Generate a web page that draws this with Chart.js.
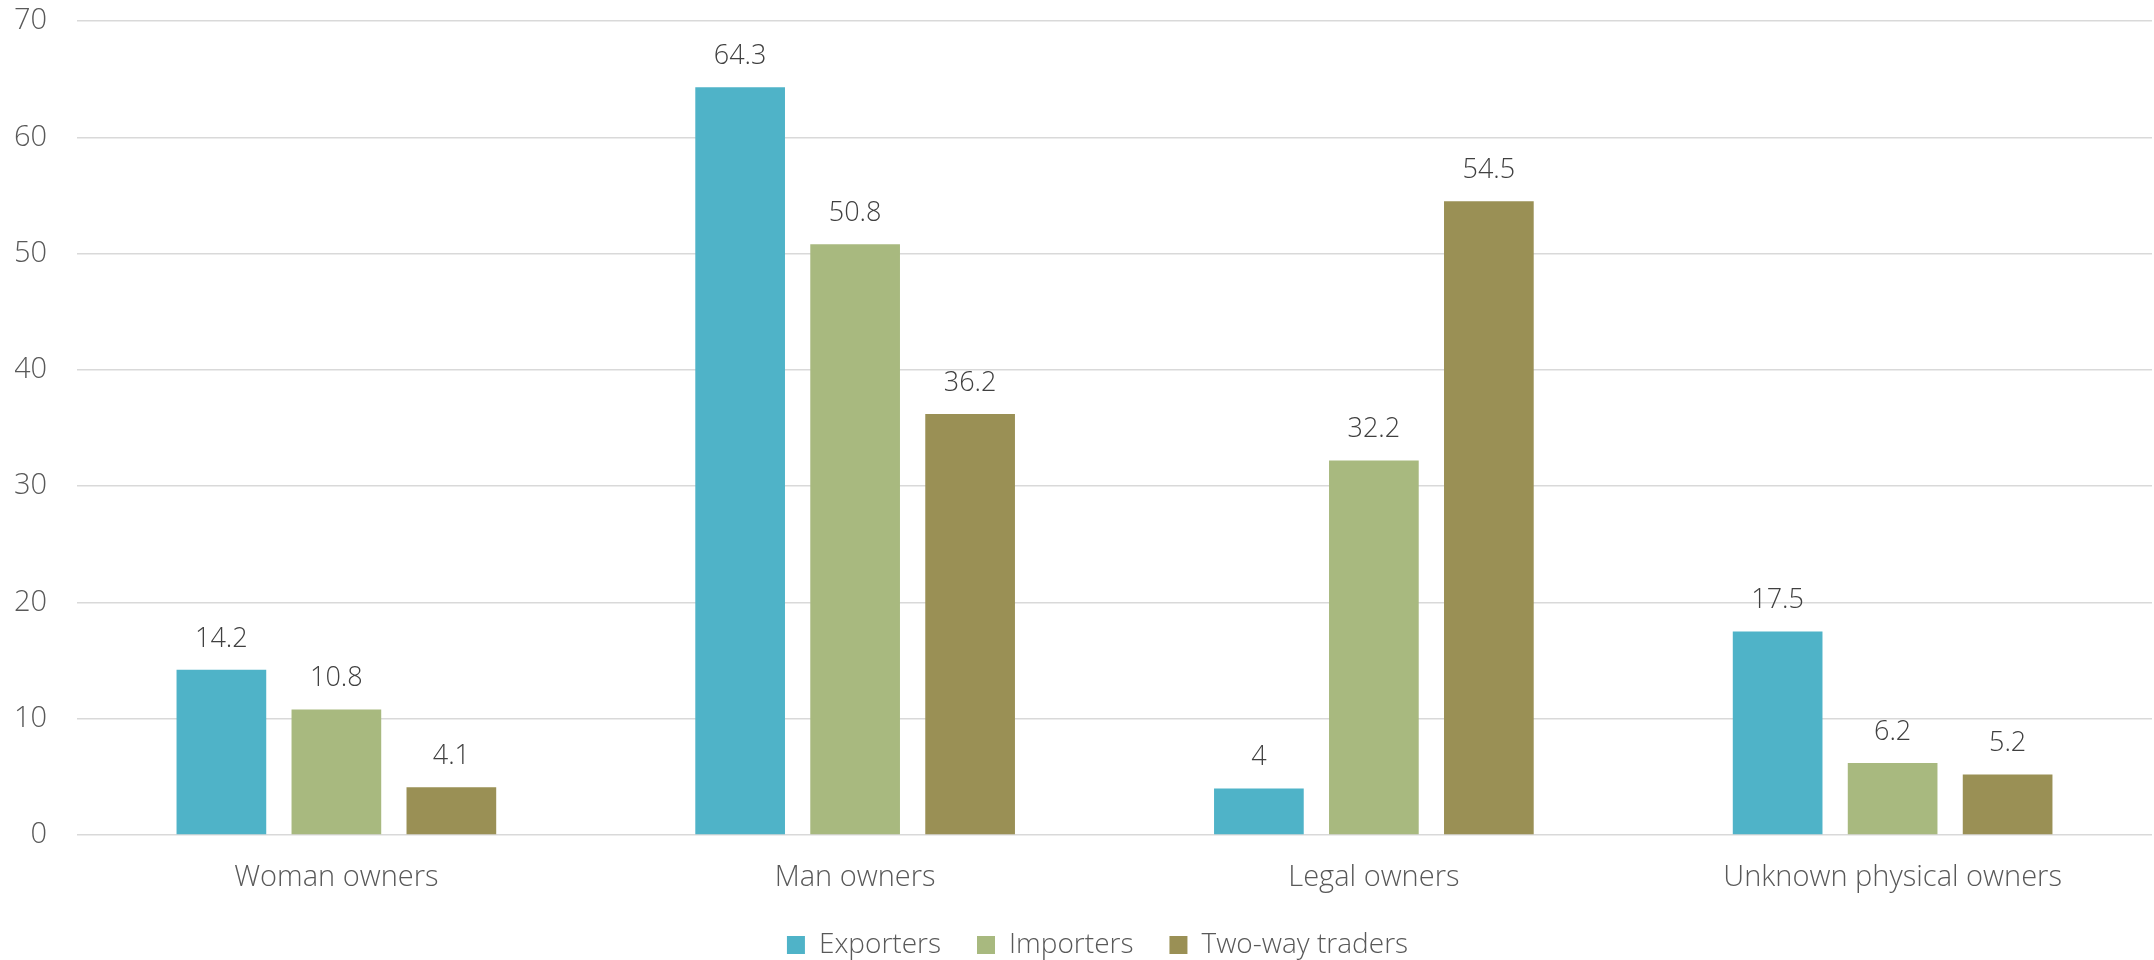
<!DOCTYPE html>
<html>
<head>
<meta charset="utf-8">
<script src="https://cdn.jsdelivr.net/npm/chart.js@4"></script>
<style>
    html, body { margin: 0; padding: 0; background: #fff; }
    #wrap { width: 2154px; height: 960px; }
    canvas { display: block; }
</style>
</head>
<body>
<div id="wrap"><canvas id="myChart"></canvas></div>
<script>
const categories = ['Woman owners', 'Man owners', 'Legal owners', 'Unknown physical owners'];
const exporters = [14.2, 64.3, 4, 17.5];
const importers = [10.8, 50.8, 32.2, 6.2];
const twoWay = [4.1, 36.2, 54.5, 5.2];
const yTicks = [0, 10, 20, 30, 40, 50, 60, 70];

const fontFamily = '"Open Sans", "Segoe UI", sans-serif';

// value labels above each bar
const barLabels = {
    id: 'barLabels',
    afterDatasetsDraw(chart) {
        const ctx = chart.ctx;
        ctx.save();
        ctx.font = `300 27px ${fontFamily}`;
        ctx.fillStyle = '#404040';
        ctx.textAlign = 'center';
        ctx.textBaseline = 'middle';
        chart.data.datasets.forEach((ds, i) => {
            chart.getDatasetMeta(i).data.forEach((bar, j) => {
                ctx.fillText(ds.data[j], bar.x, bar.y - 31);
            });
        });
        ctx.restore();
    }
};

// legend sits slightly right of the canvas centre in the original
const legendShift = {
    id: 'legendShift',
    afterLayout(chart) {
        chart.legend.left += 28;
    }
};

const ctx = document.getElementById('myChart');
new Chart(ctx, {
    type: 'bar',
    data: {
        labels: categories,
        datasets: [{
            label: 'Exporters',
            data: exporters,
            backgroundColor: '#4fb3c8'
        }, {
            label: 'Importers',
            data: importers,
            backgroundColor: '#a8b97f'
        }, {
            label: 'Two-way traders',
            data: twoWay,
            backgroundColor: '#9a9055'
        }]
    },
    options: {
        responsive: true,
        maintainAspectRatio: false,
        animation: false,
        datasets: {
            bar: {
                categoryPercentage: 0.665,
                barPercentage: 0.78
            }
        },
        layout: {
            padding: { top: 21, left: 15, right: 2, bottom: -9 }
        },
        scales: {
            x: {
                afterFit: (axis) => {
                    axis.paddingLeft = 0;
                    axis.paddingRight = 0;
                    axis.height = 60;
                },
                grid: { display: false },
                border: { display: false },
                ticks: {
                    color: '#595959',
                    padding: 26,
                    font: { family: fontFamily, size: 29, weight: 300, lineHeight: 0.6 }
                }
            },
            y: {
                min: 0,
                max: 70,
                afterBuildTicks: (axis) => {
                    axis.ticks = yTicks.map(v => ({ value: v }));
                },
                afterFit: (axis) => {
                    // tick padding is meant as horizontal gap only
                    axis.paddingTop = 0;
                    axis.paddingBottom = 0;
                    axis.width = 62;
                },
                grid: { color: '#d9d9d9', lineWidth: 1.5, drawTicks: false },
                border: { display: false },
                ticks: {
                    color: '#595959',
                    padding: 30,
                    font: { family: fontFamily, size: 29, weight: 300 }
                }
            }
        },
        plugins: {
            legend: {
                position: 'bottom',
                labels: {
                    boxWidth: 18,
                    boxHeight: 18,
                    padding: 36,
                    color: '#595959',
                    font: { family: fontFamily, size: 28, weight: 300 }
                }
            },
            tooltip: { enabled: false }
        }
    },
    plugins: [barLabels, legendShift]
});
</script>
</body>
</html>
